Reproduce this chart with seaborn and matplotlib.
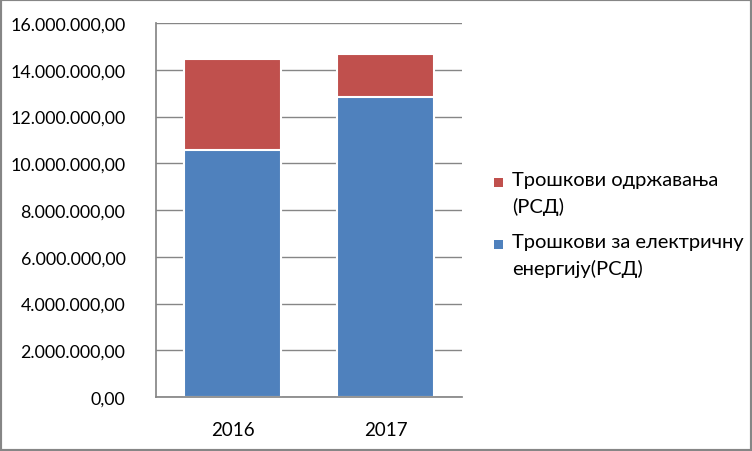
import matplotlib
matplotlib.use("Agg")
import matplotlib.pyplot as plt
import seaborn as sns
import pandas as pd
from matplotlib.patches import Rectangle
from matplotlib.ticker import FuncFormatter, MultipleLocator

years = ["2016", "2017"]
electricity = [10580000, 12830000]
maintenance = [3880000, 1840000]
label_maint = "Трошкови одржавања\n(РСД)"
label_elec = "Трошкови за електричну\nенергију(РСД)"

sns.set_theme(style="white")
plt.rcParams['font.family'] = ['Lato', 'DejaVu Sans']

df = pd.DataFrame({"year": years, "elec": electricity,
                   "total": [e + m for e, m in zip(electricity, maintenance)]})

W, H = 752, 452
fig = plt.figure(figsize=(W/100, H/100), dpi=100)
ax = fig.add_axes([156/W, 1-398/H, (462-156)/W, (398-24)/H])

red = "#C0504D"
blue = "#4F81BD"
sns.barplot(data=df, x="year", y="total", color=red, width=0.635, ax=ax,
            edgecolor="white", linewidth=1.5, saturation=1)
sns.barplot(data=df, x="year", y="elec", color=blue, width=0.635, ax=ax,
            edgecolor="white", linewidth=1.5, saturation=1)

ax.set_ylim(0, 16000000)
ax.yaxis.set_major_locator(MultipleLocator(2000000))
def fmt(v, pos):
    s = f"{int(round(v)):,}".replace(",", ".")
    return s + ",00"
ax.yaxis.set_major_formatter(FuncFormatter(fmt))
ax.grid(axis="y", color="#868686", linewidth=1)
ax.set_axisbelow(True)
for s in ["top", "right"]:
    ax.spines[s].set_visible(False)
ax.spines["left"].set_color("#868686")
ax.spines["bottom"].set_color("#868686")
ax.set_xlabel("")
ax.set_ylabel("")
ax.tick_params(axis="y", labelsize=12.8, colors="black", left=False, pad=16)
ax.tick_params(axis="x", labelsize=13.5, colors="black", bottom=False, pad=11)

# legend, drawn as text + square markers (aligned to first line like the reference)
entries = [(red, label_maint, 183), (blue, label_elec, 245)]
for color, text, ypx in entries:
    fig.patches.append(Rectangle((494/W, 1-(ypx+5)/H), 9/W, 9/H,
                                 transform=fig.transFigure, facecolor=color,
                                 edgecolor="none"))
    fig.text(512/W, 1-(ypx-11)/H, text, fontsize=14.5, va="top", ha="left",
             linespacing=1.6, color="black")

fig.patches.append(Rectangle((0, 0), 1, 1, transform=fig.transFigure, fill=False,
                             edgecolor="#868686", linewidth=3))
fig.savefig("out.png", dpi=100)
